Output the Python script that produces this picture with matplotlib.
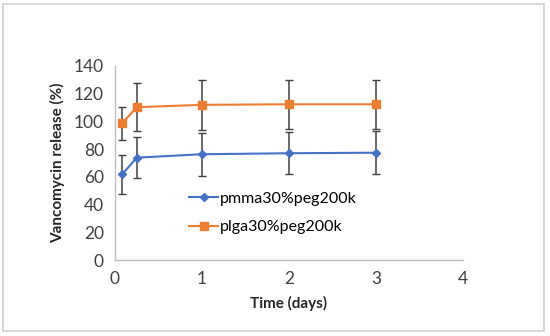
import numpy as np
import matplotlib.pyplot as plt
from matplotlib.patches import Rectangle

plt.rcParams['font.family'] = ['Lato', 'DejaVu Sans']

# release data
days = [0.083, 0.25, 1, 2, 3]
pmma = [61.8, 73.8, 76.3, 77.0, 77.4]
pmma_err = [14.2, 14.8, 15.5, 15.3, 15.6]
plga = [98.6, 110.2, 111.9, 112.3, 112.3]
plga_err = [12.0, 17.4, 17.8, 17.6, 17.6]

fig = plt.figure(figsize=(5.5, 3.36), dpi=100)
ax = fig.add_axes([0.209, 0.226, 0.633, 0.578])

ax.errorbar(days, pmma, yerr=pmma_err, color='#4472C4', marker='D', markersize=4,
            linewidth=1.5, ecolor='#404040', elinewidth=1.1, capsize=3, capthick=1,
            label='pmma30%peg200k')
ax.errorbar(days, plga, yerr=plga_err, color='#ED7D31', marker='s', markersize=6,
            linewidth=1.5, ecolor='#404040', elinewidth=1.1, capsize=3, capthick=1,
            label='plga30%peg200k')

ax.set_xlim(0, 4)
ax.set_ylim(0, 140)
ax.set_xticks(np.arange(0, 5, 1))
ax.set_yticks(np.arange(0, 141, 20))
ax.tick_params(axis='both', length=0, labelsize=12.5, labelcolor='#404040', pad=8)
for side in ['top', 'right']:
    ax.spines[side].set_visible(False)
for side in ['left', 'bottom']:
    ax.spines[side].set_color('#BFBFBF')
    ax.spines[side].set_linewidth(1)

ax.set_xlabel('Time (days)', fontsize=11, fontweight='bold', color='#262626', labelpad=6)
ax.set_ylabel('Vancomycin release (%)', fontsize=11, fontweight='bold', color='#262626', labelpad=6)

handles, labels = ax.get_legend_handles_labels()
handles = [h[0] for h in handles]
ax.legend(handles, labels, loc='upper left', bbox_to_anchor=(0.204, 0.37), frameon=False,
          fontsize=11.5, handlelength=1.8, handletextpad=0.1, labelspacing=0.9,
          borderaxespad=0, borderpad=0.2)

fig.patches.append(Rectangle((0.005, 0.015), 0.984, 0.972, transform=fig.transFigure,
                             fill=False, edgecolor='#D0D0D0', linewidth=1.2))

fig.savefig('out.png', dpi=100)
